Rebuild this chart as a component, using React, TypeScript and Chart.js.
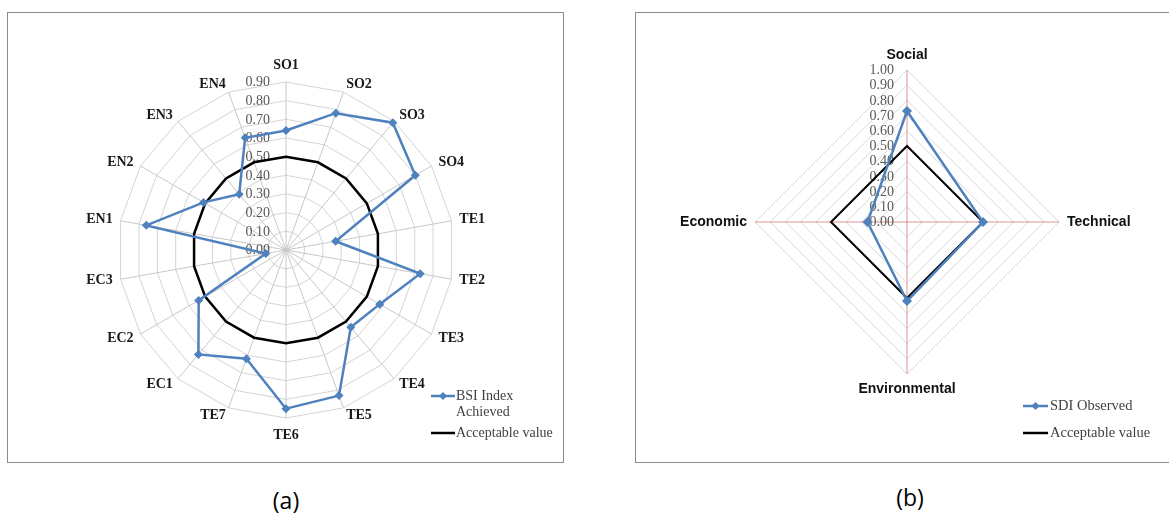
import React, { useEffect, useRef } from "react";
import { Chart, registerables } from "chart.js";

Chart.register(...registerables);

// ---------- Data: chart (a) ----------
const bsiCategories = ["SO1", "SO2", "SO3", "SO4", "TE1", "TE2", "TE3", "TE4", "TE5", "TE6", "TE7", "EC1", "EC2", "EC3", "EN1", "EN2", "EN3", "EN4"];
const bsiAchieved = [0.64, 0.78, 0.89, 0.80, 0.27, 0.73, 0.58, 0.54, 0.83, 0.85, 0.62, 0.73, 0.54, 0.11, 0.76, 0.51, 0.39, 0.64];
const bsiAcceptable = [0.50, 0.50, 0.50, 0.50, 0.50, 0.50, 0.50, 0.50, 0.50, 0.50, 0.50, 0.50, 0.50, 0.50, 0.50, 0.50, 0.50, 0.50];
const bsiScaleMax = 0.9;
const bsiScaleStep = 0.1;
const bsiLegendLines = [["BSI Index", "Achieved"], ["Acceptable value"]];

// ---------- Data: chart (b) ----------
const sdiCategories = ["Social", "Technical", "Environmental", "Economic"];
const sdiObserved = [0.73, 0.50, 0.52, 0.26];
const sdiAcceptable = [0.50, 0.50, 0.50, 0.50];
const sdiScaleMax = 1.0;
const sdiScaleStep = 0.1;
const sdiLegendLines = [["SDI Observed"], ["Acceptable value"]];

const BLUE = "#4F81BD";

const radarDecor = {
  id: "radarDecor",
  beforeDatasetsDraw(chart: any, _args: any, o: any) {
    const s = chart.scales.r;
    const ctx = chart.ctx;
    ctx.save();
    // tick labels, Excel style: left of the vertical axis
    ctx.font = o.tickFont;
    ctx.fillStyle = o.tickColor;
    ctx.textAlign = "right";
    ctx.textBaseline = "middle";
    s.ticks.forEach((t: any) => {
      const d = s.getDistanceFromCenterForValue(t.value);
      ctx.fillText(Number(t.value).toFixed(2), s.xCenter - o.tickGap, s.yCenter - d + 0.5);
    });
    // point labels
    ctx.font = o.labelFont;
    ctx.fillStyle = o.labelColor;
    ctx.textBaseline = "middle";
    (chart.data.labels as string[]).forEach((lab, i) => {
      const ang = s.getIndexAngle(i);
      const deg = Math.round((ang * 180) / Math.PI) % 360;
      if (deg === 0 || deg === 180) {
        const p = s.getPointPosition(i, s.drawingArea + o.labelPadVert);
        ctx.textAlign = "center";
        const y = p.y + (deg === 0 ? -1 : 1) * (o.labelHeight / 2);
        ctx.fillText(lab, p.x, y);
      } else {
        const p = s.getPointPosition(i, s.drawingArea + o.labelPad);
        ctx.textAlign = deg < 180 ? "left" : "right";
        ctx.fillText(lab, p.x, p.y);
      }
    });
    ctx.restore();
  },
  afterDraw(chart: any, _args: any, o: any) {
    const ctx = chart.ctx;
    const L = o.legend;
    ctx.save();
    ctx.font = L.font;
    ctx.fillStyle = L.color;
    ctx.textAlign = "left";
    ctx.textBaseline = "middle";
    chart.data.datasets.forEach((ds: any, i: number) => {
      const y = L.ys[i];
      ctx.strokeStyle = ds.borderColor;
      ctx.lineWidth = L.lineWidth;
      ctx.beginPath();
      ctx.moveTo(L.x0, y);
      ctx.lineTo(L.x1, y);
      ctx.stroke();
      if (ds.pointRadius > 0) {
        const cx = (L.x0 + L.x1) / 2;
        const r = L.markerR;
        ctx.fillStyle = ds.pointBackgroundColor;
        ctx.beginPath();
        ctx.moveTo(cx, y - r);
        ctx.lineTo(cx + r, y);
        ctx.lineTo(cx, y + r);
        ctx.lineTo(cx - r, y);
        ctx.closePath();
        ctx.fill();
        ctx.fillStyle = L.color;
      }
      L.lines[i].forEach((txt: string, j: number) => {
        ctx.fillText(txt, L.tx, y + j * L.lineH);
      });
    });
    ctx.restore();
  },
};

function makeConfig(p: any): any {
  return {
    type: "radar",
    data: {
      labels: p.labels,
      datasets: [
        {
          label: p.names[0],
          data: p.series1,
          borderColor: BLUE,
          backgroundColor: BLUE,
          pointBackgroundColor: BLUE,
          pointBorderColor: BLUE,
          borderWidth: p.blueWidth,
          pointStyle: "rectRot",
          pointRadius: p.markerR,
          pointBorderWidth: 0,
          fill: false,
          tension: 0,
        },
        {
          label: p.names[1],
          data: p.series2,
          borderColor: "#000000",
          backgroundColor: "#000000",
          pointBackgroundColor: "#000000",
          borderWidth: p.blackWidth,
          pointRadius: 0,
          fill: false,
          tension: 0,
        },
      ],
    },
    options: {
      responsive: false,
      animation: false,
      devicePixelRatio: 1,
      layout: { padding: p.padding },
      plugins: {
        legend: { display: false },
        tooltip: { enabled: false },
        radarDecor: p.decor,
      },
      scales: {
        r: {
          min: 0,
          max: p.max,
          beginAtZero: true,
          ticks: { stepSize: p.step, display: false },
          grid: { color: p.gridColor, lineWidth: 1, circular: false },
          angleLines: { color: p.angleColor, lineWidth: 1 },
          pointLabels: { display: false },
        },
      },
    },
    plugins: [radarDecor],
  };
}

function RadarCanvas({ cfg, left, top, width, height }: any) {
  const ref = useRef<HTMLCanvasElement>(null);
  useEffect(() => {
    const chart = new Chart(ref.current as HTMLCanvasElement, cfg);
    return () => chart.destroy();
  }, []);
  return (
    <canvas
      ref={ref}
      width={width}
      height={height}
      style={{ position: "absolute", left, top, width, height }}
    />
  );
}

const cfgA = makeConfig({
  labels: bsiCategories,
  names: ["BSI Index Achieved", "Acceptable value"],
  series1: bsiAchieved,
  series2: bsiAcceptable,
  max: bsiScaleMax,
  step: bsiScaleStep,
  blueWidth: 2.5,
  blackWidth: 2.5,
  markerR: 4.5,
  padding: { left: 110, right: 109, top: 69, bottom: 44 },
  gridColor: "#D4D4D4",
  angleColor: "#C8C8C8",
  decor: {
    tickFont: "14px 'Liberation Serif'",
    tickColor: "#595959",
    tickGap: 16,
    labelFont: "bold 14px 'Liberation Serif'",
    labelColor: "#1a1a1a",
    labelPad: 8,
    labelPadVert: 10,
    labelHeight: 14,
    legend: {
      font: "14px 'Liberation Serif'",
      color: "#404040",
      x0: 423,
      x1: 447,
      tx: 448,
      ys: [383, 420],
      lineH: 16,
      lineWidth: 2.5,
      markerR: 4,
      lines: bsiLegendLines,
    },
  },
});

const cfgB = makeConfig({
  labels: sdiCategories,
  names: ["SDI Observed", "Acceptable value"],
  series1: sdiObserved,
  series2: sdiAcceptable,
  max: sdiScaleMax,
  step: sdiScaleStep,
  blueWidth: 2.5,
  blackWidth: 2,
  markerR: 5,
  padding: { left: 119, right: 109, top: 57, bottom: 88 },
  gridColor: "#D9D9D9",
  angleColor: "rgba(214,110,110,0.75)",
  decor: {
    tickFont: "14px 'Liberation Serif'",
    tickColor: "#595959",
    tickGap: 13,
    labelFont: "bold 14px 'Liberation Sans'",
    labelColor: "#111111",
    labelPad: 8,
    labelPadVert: 8,
    labelHeight: 14,
    legend: {
      font: "14.5px 'Liberation Serif'",
      color: "#404040",
      x0: 387,
      x1: 412,
      tx: 414,
      ys: [393, 420],
      lineH: 16,
      lineWidth: 2.5,
      markerR: 4,
      lines: sdiLegendLines,
    },
  },
});

export default function App() {
  const boxStyle: React.CSSProperties = {
    position: "absolute",
    border: "1px solid #8c8c8c",
    boxSizing: "border-box",
    background: "#fff",
  };
  const capStyle: React.CSSProperties = {
    position: "absolute",
    width: 100,
    textAlign: "center",
    font: "23px 'Open Sans'",
    color: "#000",
    lineHeight: "28px",
  };
  return (
    <div style={{ position: "absolute", left: 0, top: 0, width: 1169, height: 514, background: "#fff", overflow: "hidden" }}>
      <div style={{ ...boxStyle, left: 7, top: 12, width: 557, height: 451 }} />
      <div style={{ ...boxStyle, left: 635, top: 12, width: 540, height: 451 }} />
      <RadarCanvas cfg={cfgA} left={8} top={13} width={555} height={449} />
      <RadarCanvas cfg={cfgB} left={636} top={13} width={532} height={449} />
      <div style={{ ...capStyle, left: 236, top: 486 }}>(a)</div>
      <div style={{ ...capStyle, left: 860, top: 483 }}>(b)</div>
    </div>
  );
}
